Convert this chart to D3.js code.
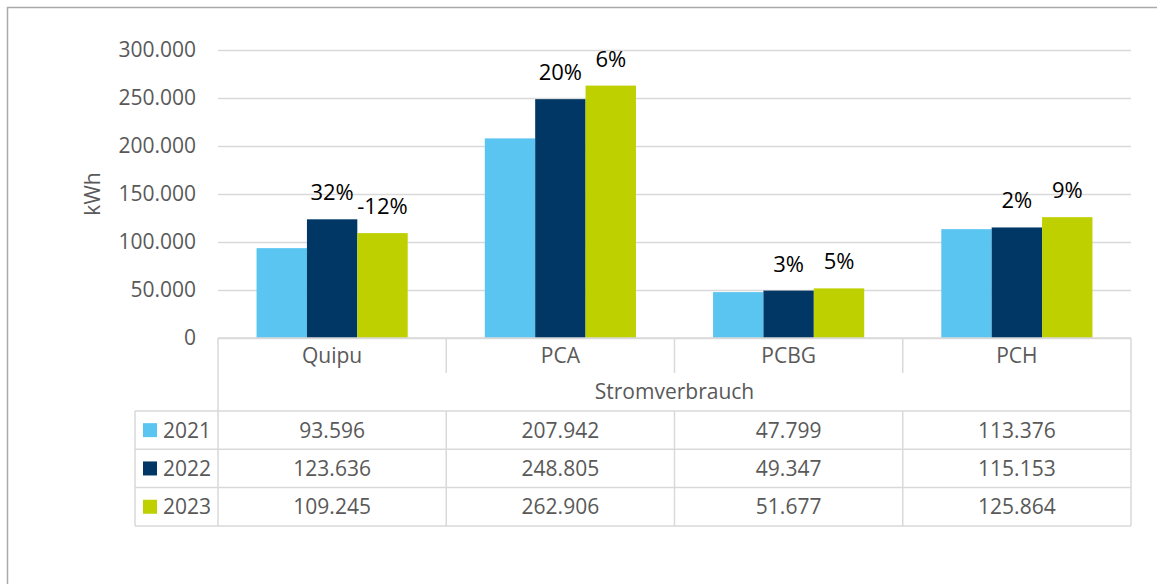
<!DOCTYPE html>
<html>
<head>
<meta charset="utf-8">
<script src="https://cdn.jsdelivr.net/npm/d3@7"></script>
<style>
  body { margin: 0; background: #fff; }
  svg { display: block; font-family: "Open Sans", sans-serif; }
</style>
</head>
<body>
<div id="chart"></div>
<script>
var categories = ["Quipu", "PCA", "PCBG", "PCH"];
var years = ["2021", "2022", "2023"];
var values2021 = [93596, 207942, 47799, 113376];
var values2022 = [123636, 248805, 49347, 115153];
var values2023 = [109245, 262906, 51677, 125864];
var labels2022 = ["32%", "20%", "3%", "2%"];
var labels2023 = ["-12%", "6%", "5%", "9%"];
var yTicks = [0, 50000, 100000, 150000, 200000, 250000, 300000];
var groupName = "Stromverbrauch";
var yTitle = "kWh";

var colors = {"2021": "#5bc5f2", "2022": "#003764", "2023": "#bed000"};
var seriesValues = {"2021": values2021, "2022": values2022, "2023": values2023};
var seriesLabels = {"2022": labels2022, "2023": labels2023};

var de = d3.formatLocale({decimal: ",", thousands: ".", grouping: [3], currency: ["", "€"]});
var fmt = de.format(",.0f");

var W = 1157, H = 584;
var plotLeft = 218, plotRight = 1131, plotTop = 50, base = 338;
var catRowH = 35, stromRowH = 38, rowH = 38.3, legendLeft = 135;
var gridCol = "#d9d9d9", textCol = "#595959", fs = "21px";

var svg = d3.select("#chart").append("svg")
  .attr("width", W)
  .attr("height", H);

// outer frame (only top and left edges visible)
svg.append("path")
  .attr("d", "M7.5," + H + "V7.5H" + W)
  .attr("fill", "none")
  .attr("stroke", "#aaaaaa")
  .attr("stroke-width", 1.5);

var x = d3.scaleBand().domain(categories).range([plotLeft, plotRight]);
var x1 = d3.scaleBand().domain(years).range([0, x.bandwidth()]).paddingOuter(0.765);
var y = d3.scaleLinear().domain([0, 300000]).range([base, plotTop]);

// gridlines + y axis labels
var yAxis = d3.axisLeft(y)
  .tickValues(yTicks)
  .tickSize(-(plotRight - plotLeft))
  .tickFormat(function (d) { return fmt(d); })
  .tickPadding(22);

var gy = svg.append("g")
  .attr("transform", "translate(" + plotLeft + ",0)")
  .call(yAxis);
gy.select(".domain").remove();
gy.selectAll(".tick line").attr("stroke", gridCol).attr("stroke-width", 1.5);
gy.selectAll(".tick text")
  .attr("fill", textCol)
  .style("font-size", fs)
  .style("font-family", "Open Sans, sans-serif");

svg.append("text")
  .attr("transform", "translate(100," + ((plotTop + base) / 2) + ") rotate(-90)")
  .attr("text-anchor", "middle")
  .attr("fill", textCol)
  .style("font-size", fs)
  .text(yTitle);

// bars
years.forEach(function (yr) {
  svg.append("g").selectAll("rect")
    .data(seriesValues[yr])
    .join("rect")
    .attr("x", function (d, i) { return x(categories[i]) + x1(yr); })
    .attr("y", function (d) { return y(d); })
    .attr("width", x1.bandwidth())
    .attr("height", function (d) { return y(0) - y(d); })
    .attr("fill", colors[yr]);
});

// change labels
["2022", "2023"].forEach(function (yr) {
  svg.append("g").selectAll("text")
    .data(seriesLabels[yr])
    .join("text")
    .attr("x", function (d, i) { return x(categories[i]) + x1(yr) + x1.bandwidth() / 2; })
    .attr("y", function (d, i) { return y(seriesValues[yr][i]) - 19; })
    .attr("text-anchor", "middle")
    .attr("fill", "#000")
    .style("font-size", "22px")
    .text(function (d) { return d; });
});

// data table
var catBottom = base + catRowH;
var stromBottom = catBottom + stromRowH;
var tableBottom = stromBottom + rowH * years.length;
var table = svg.append("g")
  .attr("stroke", gridCol)
  .attr("stroke-width", 1.5)
  .attr("fill", "none");

table.append("line").attr("x1", plotLeft).attr("x2", plotRight).attr("y1", base).attr("y2", base);
years.forEach(function (yr, i) {
  table.append("line").attr("x1", legendLeft).attr("x2", plotRight)
    .attr("y1", stromBottom + rowH * i).attr("y2", stromBottom + rowH * i);
});
table.append("line").attr("x1", legendLeft).attr("x2", plotRight).attr("y1", tableBottom).attr("y2", tableBottom);
table.append("line").attr("x1", plotLeft).attr("x2", plotLeft).attr("y1", base).attr("y2", tableBottom);
table.append("line").attr("x1", plotRight).attr("x2", plotRight).attr("y1", base).attr("y2", tableBottom);
table.append("line").attr("x1", legendLeft).attr("x2", legendLeft).attr("y1", stromBottom).attr("y2", tableBottom);
categories.slice(1).forEach(function (c) {
  table.append("line").attr("x1", x(c)).attr("x2", x(c)).attr("y1", base).attr("y2", catBottom);
  table.append("line").attr("x1", x(c)).attr("x2", x(c)).attr("y1", stromBottom).attr("y2", tableBottom);
});

var txt = svg.append("g")
  .attr("fill", textCol)
  .style("font-size", fs)
  .attr("text-anchor", "middle");

txt.selectAll("text.cat")
  .data(categories)
  .join("text")
  .attr("class", "cat")
  .attr("x", function (d) { return x(d) + x.bandwidth() / 2; })
  .attr("y", base + 25)
  .text(function (d) { return d; });

txt.append("text")
  .attr("x", (plotLeft + plotRight) / 2)
  .attr("y", catBottom + 26)
  .text(groupName);

years.forEach(function (yr, r) {
  var cy = stromBottom + rowH * r + rowH / 2 + 7.5;
  txt.append("g").selectAll("text")
    .data(seriesValues[yr])
    .join("text")
    .attr("x", function (d, i) { return x(categories[i]) + x.bandwidth() / 2; })
    .attr("y", cy)
    .text(function (d) { return fmt(d); });

  svg.append("rect")
    .attr("x", 143)
    .attr("y", stromBottom + rowH * r + rowH / 2 - 7)
    .attr("width", 14)
    .attr("height", 14)
    .attr("fill", colors[yr]);

  svg.append("text")
    .attr("x", 163)
    .attr("y", cy)
    .attr("fill", textCol)
    .style("font-size", fs)
    .text(yr);
});
</script>
</body>
</html>
